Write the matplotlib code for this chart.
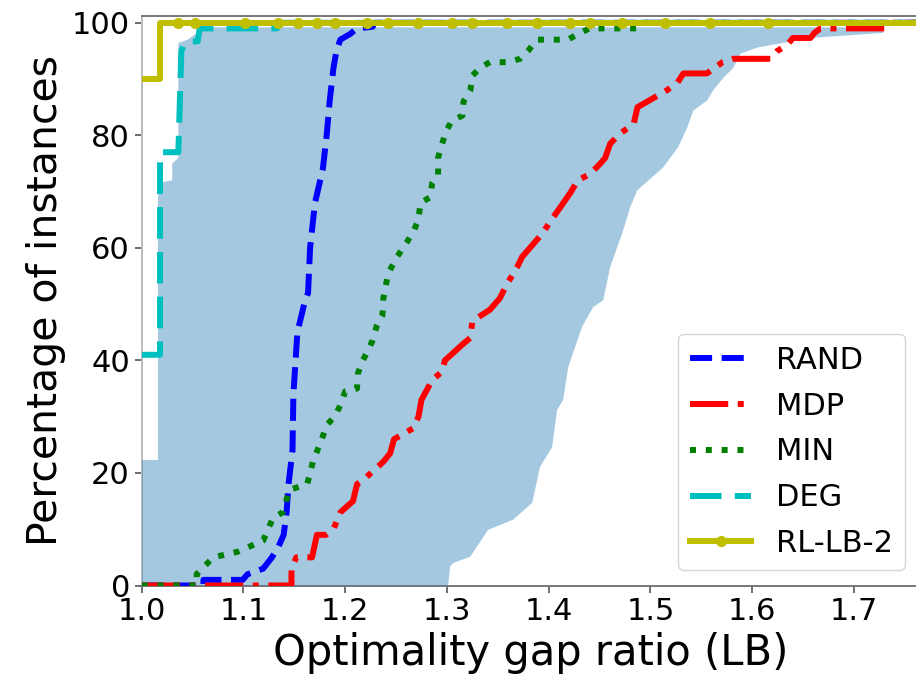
import matplotlib
matplotlib.use('Agg')
import matplotlib.pyplot as plt

# CDF curves, percentage of instances vs optimality gap ratio
rand_x = [1.0, 1.0607, 1.0607, 1.0992, 1.104, 1.1194, 1.128, 1.1347, 1.1395, 1.1424, 1.1443, 1.1482,
          1.1491, 1.153, 1.1597, 1.1635, 1.1655, 1.1703, 1.178, 1.1818, 1.1847, 1.1885, 1.1914, 1.1952,
          1.2048, 1.2116, 1.227, 1.229, 1.765]
rand_y = [0, 0, 1, 1, 2, 3, 5, 7, 9, 13, 18, 24,
          34, 45, 50, 52, 60, 68, 74, 80, 86, 92, 95, 97,
          98, 99, 99.3, 100, 100]

mdp_x = [1.0, 1.1472, 1.1472, 1.152, 1.1674, 1.1722, 1.181, 1.1885, 1.1952, 1.2077, 1.2116, 1.2193,
         1.2375, 1.2442, 1.248, 1.2673, 1.272, 1.275, 1.2855, 1.2952, 1.298, 1.3163, 1.323, 1.325,
         1.3422, 1.3518, 1.3595, 1.3691, 1.3739, 1.3816, 1.394, 1.4027, 1.4114, 1.421, 1.4287, 1.4412,
         1.4508, 1.4556, 1.4604, 1.47, 1.4835, 1.4873, 1.497, 1.5161, 1.5267, 1.5324, 1.5555, 1.5709,
         1.5814, 1.618, 1.6247, 1.6343, 1.64, 1.6573, 1.6612, 1.667, 1.736, 1.738, 1.765]
mdp_y = [0, 0, 3, 5, 5, 9, 9, 10, 13, 15, 18, 19,
         22, 23.5, 26, 28, 30, 33, 36.5, 38, 40, 43, 44, 47,
         49, 51, 53.7, 56.6, 58.4, 60, 62.6, 65, 67.2, 69.7, 72, 73.2,
         75, 76, 78.5, 80.3, 82, 85, 86, 88, 89.4, 91, 91, 93,
         93.6, 93.6, 95, 96, 97.3, 97.3, 98.2, 99, 99, 100, 100]

min_x = [1.0, 1.054, 1.054, 1.0703, 1.0944, 1.107, 1.1194, 1.129, 1.1386, 1.1453, 1.1626, 1.1655,
         1.1683, 1.177, 1.1818, 1.1895, 1.1952, 1.2, 1.2116, 1.2125, 1.2173, 1.2231, 1.227, 1.2308,
         1.2366, 1.2375, 1.2423, 1.251, 1.2606, 1.2673, 1.272, 1.274, 1.2836, 1.2855, 1.2913, 1.2913,
         1.2952, 1.3, 1.3048, 1.3153, 1.3163, 1.323, 1.325, 1.3326, 1.3422, 1.3595, 1.372, 1.3797,
         1.3883, 1.419, 1.4287, 1.4402, 1.4883, 1.4902, 1.765]
min_y = [0, 0, 2, 5, 6, 7, 8, 12, 13, 17, 18, 20,
         22, 26, 28.5, 30, 32, 34.5, 35, 37.7, 40, 42, 43.6, 46,
         48, 51, 55.5, 58.4, 61, 63, 65, 68, 69, 71.5, 73, 76,
         78.5, 81, 82.6, 83.5, 86, 88, 90.6, 92, 93, 93, 93.6, 95,
         97, 97, 98, 99, 99, 100, 100]

deg_x = [1.0, 1.018, 1.018, 1.036, 1.039, 1.043, 1.055, 1.057, 1.133, 1.134, 1.765]
deg_y = [41, 41, 77, 77, 95, 96.7, 96.7, 99, 99, 100, 100]

rl_x = [1.0, 1.018, 1.018, 1.0357, 1.0524, 1.1016, 1.134, 1.1537, 1.1724, 1.19, 1.2215, 1.2422,
        1.2717, 1.3051, 1.3248, 1.3592, 1.3887, 1.4212, 1.4408, 1.4723, 1.5146, 1.5589, 1.6159, 1.765]
rl_y = [90, 90, 100, 100, 100, 100, 100, 100, 100, 100, 100, 100,
        100, 100, 100, 100, 100, 100, 100, 100, 100, 100, 100, 100]
rl_marks = list(range(3, 23))

# shaded band: left edge going up, then right edge coming down
band_left_x = [1.0, 1.0, 1.016, 1.016, 1.03, 1.03, 1.036, 1.036, 1.045, 1.057, 1.06]
band_left_y = [0, 22.3, 22.3, 71.5, 72, 75, 76, 96.4, 97, 98.5, 99.2]
band_right_x = [1.729, 1.729, 1.6572, 1.6051, 1.5884, 1.5815, 1.5716, 1.5618, 1.5559, 1.5421, 1.5362,
                1.5273, 1.5126, 1.487, 1.4801, 1.4723, 1.4605, 1.4536, 1.4438, 1.4329, 1.426, 1.4192,
                1.4142, 1.4083, 1.4034, 1.3916, 1.3838, 1.3651, 1.3405, 1.3228, 1.3061, 1.3032, 1.3012]
band_right_y = [99.2, 98.2, 97.3, 95.6, 94.5, 92, 90.2, 88, 86.2, 84.4, 81.4,
                77.9, 74.3, 70.2, 67.2, 62.6, 56.6, 50.7, 49.5, 46, 42.4, 38.8,
                33, 31.2, 24.6, 21.1, 14.7, 11.7, 9.9, 5.1, 4, 3.4, 0]

fig = plt.figure(figsize=(9.16, 6.79), dpi=100)
ax = fig.add_axes([0.1547, 0.1377, 0.8497, 0.8387])

ax.fill(band_left_x + band_right_x, band_left_y + band_right_y, color='C0', alpha=0.4, lw=0, zorder=2.6)

lw = 4.3
ax.plot(rand_x, rand_y, color='b', ls='--', lw=lw, label='RAND', zorder=3)
ax.plot(mdp_x, mdp_y, color='r', ls='-.', lw=lw, label='MDP', zorder=3)
ax.plot(min_x, min_y, color='g', ls=':', lw=lw, label='MIN', zorder=3)
ax.plot(deg_x, deg_y, color='c', ls=(0, (5.3, 2.2)), lw=lw, label='DEG', zorder=3)
ax.plot(rl_x, rl_y, color='y', ls='-', lw=lw, marker='o', markersize=7, markevery=rl_marks,
        label='RL-LB-2', zorder=3)

ax.set_xlim(1.0, 1.765)
ax.set_ylim(0, 101.2)
ax.set_xticks([1.0, 1.1, 1.2, 1.3, 1.4, 1.5, 1.6, 1.7])
ax.set_yticks([0, 20, 40, 60, 80, 100])
ax.tick_params(labelsize=22, length=5, width=1.2, color='#555555')

for s in ax.spines.values():
    s.set_color('#777777')
    s.set_linewidth(1.4)
ax.spines['left'].set_color('#bbbbbb')

ax.set_xlabel('Optimality gap ratio (LB)', fontsize=30)
ax.set_ylabel('Percentage of instances', fontsize=29.5)

ax.legend(loc='lower right', fontsize=22, borderaxespad=0.5, labelspacing=0.55)

plt.savefig('out.png', dpi=100)
